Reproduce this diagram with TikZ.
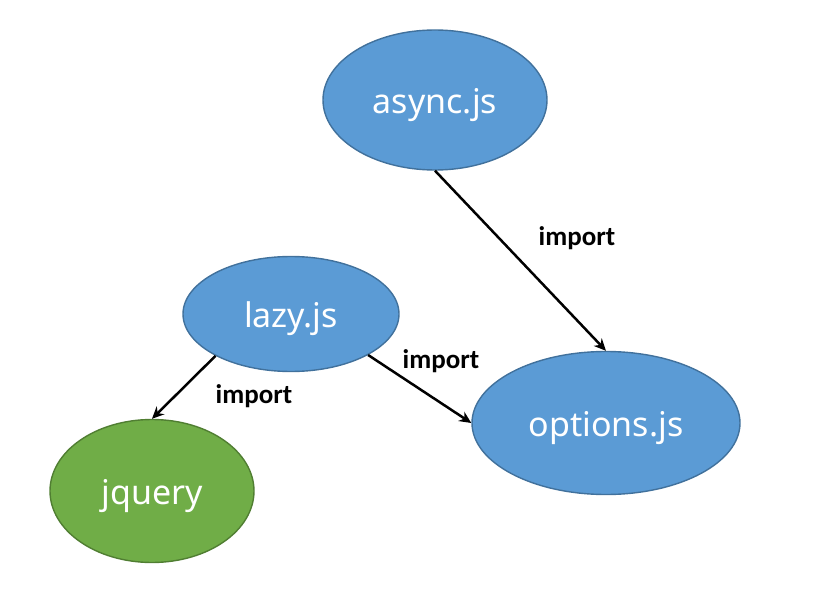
\documentclass[tikz,border=0pt]{standalone}
\usepackage{fontspec}
\setmainfont{Noto Sans}
\newfontfamily\labelfont{Carlito}
\usetikzlibrary{shapes.geometric,arrows.meta}
\definecolor{nodeblue}{HTML}{5B9BD5}
\definecolor{nodeblueedge}{HTML}{41719C}
\definecolor{nodegreen}{HTML}{70AD47}
\definecolor{nodegreenedge}{HTML}{507E32}
\tikzset{
  module/.style={ellipse, draw=nodeblueedge, fill=nodeblue, line width=1.4pt, inner sep=0pt,
    text=white, font=\fontsize{34}{40}\selectfont, text height=32pt, text depth=4.5pt},
  extmodule/.style={module, draw=nodegreenedge, fill=nodegreen},
  dep/.style={line width=2.5pt, -{Stealth[length=12pt,width=11pt]}},
  deplabel/.style={font=\labelfont\bfseries\fontsize{27}{30}\selectfont, text=black}
}
\begin{document}
\begin{tikzpicture}[x=1pt,y=-1pt]
\useasboundingbox (0,0) rectangle (813,612);
\node[module, minimum width=224pt, minimum height=140pt] (async) at (435,100) {async.js};
\node[module, minimum width=216pt, minimum height=115pt] (lazy) at (291,314) {lazy.js};
\node[module, minimum width=268pt, minimum height=143pt] (options) at (606,423) {options.js};
\node[extmodule, minimum width=204pt, minimum height=143pt] (jquery) at (152,491) {jquery};
\draw[dep] (async.south) -- (options.north);
\draw[dep] (lazy.209) -- (jquery.north);
\draw[dep] (lazy.-28) -- (options.west);
\node[deplabel] (l1) at (577,238) {import};
\node[deplabel] (l2) at (254,396) {import};
\node[deplabel] (l3) at (441,361) {import};
\end{tikzpicture}
\end{document}
